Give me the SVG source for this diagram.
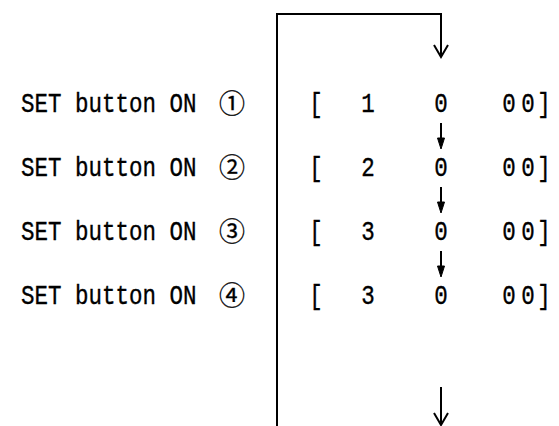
<svg xmlns="http://www.w3.org/2000/svg" width="559" height="426" viewBox="0 0 559 426">
<defs>
<style>
.t{font-family:"Liberation Mono",monospace;font-size:22.5px;fill:#000;stroke:#000;stroke-width:0.3}
.c{font-family:"Noto Sans CJK JP","DejaVu Sans",sans-serif;font-size:26px;fill:#000;stroke:#000;stroke-width:0.3}
.m{text-anchor:middle}
.ln{stroke:#000;stroke-width:2;fill:none}
</style>
<marker id="open" markerWidth="16" markerHeight="16" refX="14" refY="8" orient="auto" markerUnits="userSpaceOnUse" viewBox="0 0 16 16">
<path d="M2,1 L14,8 L2,15" fill="none" stroke="#000" stroke-width="2"/>
</marker>
</defs>
<rect width="559" height="426" fill="#fff"/>
<g id="row1">
<text class="t" transform="translate(21,112) scale(1,1.22)">SET button ON</text>
<text class="c m" x="232" y="113">①</text>
<g transform="translate(0,112) scale(1,1.22)"><text class="t m" x="316">[</text><text class="t m" x="368">1</text><text class="t m" x="441">0</text><text class="t m" x="509">0</text><text class="t m" x="528">0</text><text class="t m" x="544">]</text></g>
</g>
<g id="row2">
<text class="t" transform="translate(21,176) scale(1,1.22)">SET button ON</text>
<text class="c m" x="232" y="177">②</text>
<g transform="translate(0,176) scale(1,1.22)"><text class="t m" x="316">[</text><text class="t m" x="368">2</text><text class="t m" x="441">0</text><text class="t m" x="509">0</text><text class="t m" x="528">0</text><text class="t m" x="544">]</text></g>
</g>
<g id="row3">
<text class="t" transform="translate(21,240) scale(1,1.22)">SET button ON</text>
<text class="c m" x="232" y="241">③</text>
<g transform="translate(0,240) scale(1,1.22)"><text class="t m" x="316">[</text><text class="t m" x="368">3</text><text class="t m" x="441">0</text><text class="t m" x="509">0</text><text class="t m" x="528">0</text><text class="t m" x="544">]</text></g>
</g>
<g id="row4">
<text class="t" transform="translate(21,304) scale(1,1.22)">SET button ON</text>
<text class="c m" x="232" y="305">④</text>
<g transform="translate(0,304) scale(1,1.22)"><text class="t m" x="316">[</text><text class="t m" x="368">3</text><text class="t m" x="441">0</text><text class="t m" x="509">0</text><text class="t m" x="528">0</text><text class="t m" x="544">]</text></g>
</g>
<g id="connectors">
<path class="ln" d="M277,426 V14 H441 V57" marker-end="url(#open)"/>
<path class="ln" d="M441,387 V425" marker-end="url(#open)"/>
<g fill="#000" stroke="#000" stroke-width="2">
<path d="M441,123 V140"/><path d="M437.5,138 L441,149 L444.5,138 Z" stroke-width="1"/>
<path d="M441,187 V204"/><path d="M437.5,202 L441,213 L444.5,202 Z" stroke-width="1"/>
<path d="M441,251 V268"/><path d="M437.5,266 L441,277 L444.5,266 Z" stroke-width="1"/>
</g>
</g>
</svg>
